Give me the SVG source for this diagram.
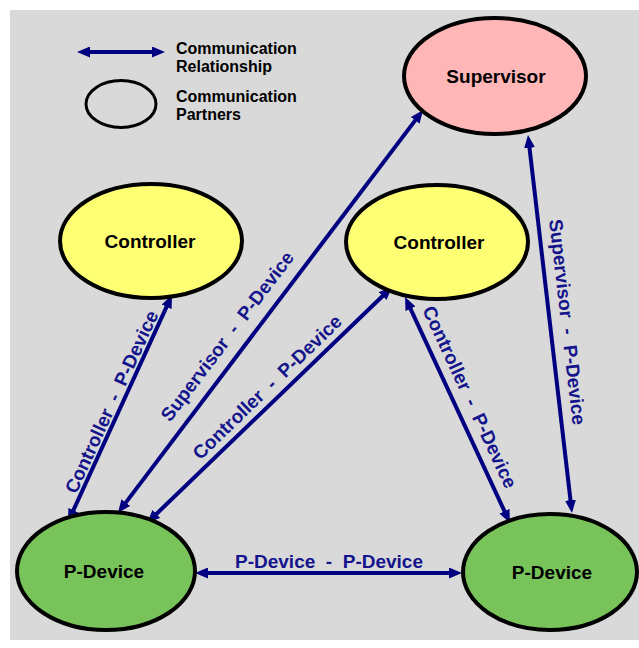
<svg xmlns="http://www.w3.org/2000/svg" width="639" height="648" viewBox="0 0 639 648">
<style>
.node ellipse{stroke:#000;stroke-width:4}
.nl{font-family:"Liberation Sans",Arial,sans-serif;font-weight:bold;font-size:19px;fill:#000;text-anchor:middle}
.lg{font-family:"Liberation Sans",Arial,sans-serif;font-weight:bold;font-size:16px;fill:#000}
.el{font-family:"Liberation Sans",Arial,sans-serif;font-weight:bold;font-size:19px;fill:#14148c;text-anchor:middle;white-space:pre}
.edge{stroke:#000080;stroke-width:4;fill:none;marker-start:url(#ah);marker-end:url(#ah)}
</style>
<defs>
<marker id="ah" markerUnits="userSpaceOnUse" markerWidth="14" markerHeight="11" refX="1" refY="5.5" orient="auto-start-reverse" viewBox="0 0 14 11">
<path d="M0,0 L13,5.5 L0,11 z" fill="#000080"/>
</marker>
</defs>
<rect x="10" y="10" width="629" height="630" fill="#D9D9D9"/>
<g id="legend">
<line class="edge" x1="89" y1="52" x2="153" y2="52"/>
<text class="lg" x="176" y="53.5">Communication</text>
<text class="lg" x="176" y="72">Relationship</text>
<ellipse cx="121" cy="104" rx="35" ry="23.5" fill="none" stroke="#000" stroke-width="3"/>
<text class="lg" x="176" y="101.5">Communication</text>
<text class="lg" x="176" y="120">Partners</text>
</g>
<g id="edges">
<line class="edge" x1="73.0" y1="511.1" x2="167.0" y2="305.9"/>
<line class="edge" x1="125.2" y1="503.4" x2="415.8" y2="119.6"/>
<line class="edge" x1="155.6" y1="514.7" x2="383.4" y2="295.3"/>
<line class="edge" x1="410.1" y1="307.9" x2="504.9" y2="512.1"/>
<line class="edge" x1="529.4" y1="146.9" x2="570.6" y2="501.1"/>
<line class="edge" x1="207" y1="573" x2="450" y2="573"/>
<text class="el" transform="translate(121.1,406.2) rotate(-65.4)" y="-4">Controller  -  P-Device</text>
<text class="el" transform="translate(242.9,348) rotate(-52.9)" y="-13">Supervisor  -  P-Device</text>
<text class="el" transform="translate(277.2,397.6) rotate(-43.9)" y="-8">Controller  -  P-Device</text>
<text class="el" transform="translate(454.8,404.1) rotate(65.1)" y="-10">Controller  -  P-Device</text>
<text class="el" transform="translate(550,324) rotate(83.4)" y="-11">Supervisor  -  P-Device</text>
<text class="el" x="329" y="568">P-Device  -  P-Device</text>
</g>
<g id="supervisor" class="node">
<ellipse cx="495" cy="76" rx="91" ry="58" fill="#FFB6B6"/>
<text class="nl" x="496" y="83">Supervisor</text>
</g>
<g id="controller1" class="node">
<ellipse cx="151" cy="241" rx="91" ry="57" fill="#FFFF73"/>
<text class="nl" x="150" y="248">Controller</text>
</g>
<g id="controller2" class="node">
<ellipse cx="437" cy="242" rx="91" ry="57" fill="#FFFF73"/>
<text class="nl" x="439" y="249">Controller</text>
</g>
<g id="pdevice1" class="node">
<ellipse cx="106" cy="571" rx="89" ry="59" fill="#78C35A"/>
<text class="nl" x="104" y="578">P-Device</text>
</g>
<g id="pdevice2" class="node">
<ellipse cx="550" cy="572" rx="87" ry="58" fill="#78C35A"/>
<text class="nl" x="552" y="579">P-Device</text>
</g>
</svg>
